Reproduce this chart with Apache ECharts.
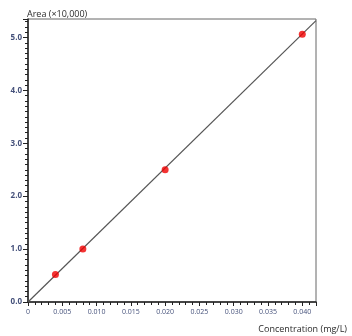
<!DOCTYPE html>
<html><head><meta charset="utf-8">
<script src="https://cdn.jsdelivr.net/npm/echarts@6/dist/echarts.min.js"></script>
<style>html,body{margin:0;padding:0;background:#fff}#c{width:352px;height:336px}</style>
</head><body><div id="c"></div>
<script>
const concentration = [0.004, 0.008, 0.020, 0.040];
const area = [0.52, 1.00, 2.50, 5.06];
const fitX = [0, 0.042];
const fitY = [0, 5.32];
const xTicks = ['0','0.005','0.010','0.015','0.020','0.025','0.030','0.035','0.040'];
const yTicks = ['0.0','1.0','2.0','3.0','4.0','5.0'];
const xTitle = 'Concentration (mg/L)';
const yTitle = 'Area (×10,000)';

const chart = echarts.init(document.getElementById('c'));
const labelColor = '#44507a';
const font = 'Open Sans';
chart.setOption({
  animation: false,
  backgroundColor: '#fff',
  title: [
    {text: yTitle, left: 22, top: 5, textStyle: {fontSize: 9, fontWeight: 'normal', color: '#2a2a2a', fontFamily: font}},
    {text: xTitle, right: 0, top: 320, textStyle: {fontSize: 9, fontWeight: 'normal', color: '#2a2a2a', fontFamily: font}}
  ],
  grid: {left: 28, right: 36, top: 19, bottom: 34, show: true, borderColor: '#666', borderWidth: 1},
  xAxis: {
    type: 'value', min: 0, max: 0.042, interval: 0.005,
    axisLine: {lineStyle: {color: '#222', width: 1.5}},
    axisTick: {show: true, length: 4, inside: false, lineStyle: {color: '#222'}},
    minorTick: {show: true, splitNumber: 5, length: 3, lineStyle: {color: '#222'}},
    splitLine: {show: false},
    axisLabel: {
      fontSize: 7, color: labelColor, fontFamily: font, margin: 6,
      formatter: function (v) {
        const i = Math.round(v / 0.005);
        return Math.abs(v - i * 0.005) < 1e-9 && i < xTicks.length ? xTicks[i] : '';
      }
    }
  },
  yAxis: {
    type: 'value', min: 0, max: 5.35, interval: 1,
    axisLine: {lineStyle: {color: '#222', width: 1.5}},
    axisTick: {show: true, length: 5, lineStyle: {color: '#222'}},
    minorTick: {show: true, splitNumber: 10, length: 3, lineStyle: {color: '#222'}},
    splitLine: {show: false},
    axisLabel: {
      fontSize: 8, fontWeight: 'bold', color: labelColor, fontFamily: font, margin: 6,
      formatter: function (v) {
        const i = Math.round(v);
        return Math.abs(v - i) < 1e-9 && i < yTicks.length ? yTicks[i] : '';
      }
    }
  },
  series: [
    {type: 'line', data: fitX.map((x, i) => [x, fitY[i]]), symbol: 'none', lineStyle: {color: '#555', width: 1.2}, z: 2, silent: true},
    {type: 'scatter', data: concentration.map((x, i) => [x, area[i]]), symbolSize: 7, itemStyle: {color: '#f00000'}, z: 3}
  ]
});
</script></body></html>
